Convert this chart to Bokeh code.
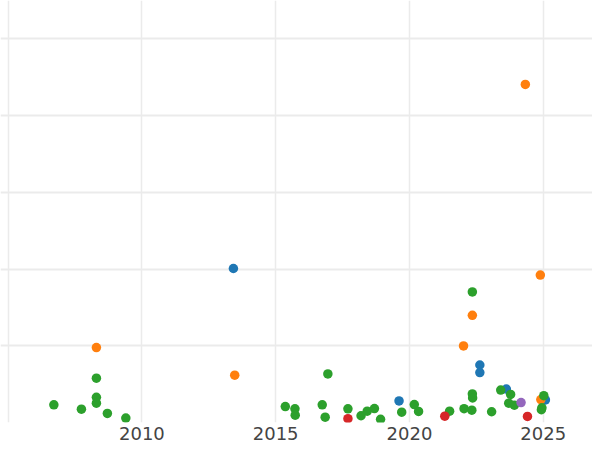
from bokeh.plotting import figure
from bokeh.models import Range1d, FixedTicker, ColumnDataSource
from bokeh.embed import file_html
from bokeh.resources import INLINE

# data (x = year, y = value; arbitrary units with gridlines every 100)
blue_x = [2013.42, 2019.61, 2022.63, 2022.63, 2023.62, 2025.08]
blue_y = [200.9, 28.4, 75.2, 65.3, 43.9, 29.7]

orange_x = [2008.30, 2013.47, 2022.02, 2022.35, 2024.33, 2024.89, 2024.91]
orange_y = [97.9, 61.9, 100.0, 139.9, 440.7, 192.3, 30.1]

green_x = [2006.71, 2007.74, 2008.30, 2008.30, 2008.30, 2008.71, 2009.40,
           2015.36, 2015.72, 2015.73, 2016.95, 2016.74, 2016.85, 2017.70,
           2018.19, 2018.42, 2018.69, 2018.92, 2019.71, 2020.18, 2020.34,
           2021.50, 2022.04, 2022.35, 2022.36, 2022.33, 2022.35, 2023.07,
           2023.41, 2023.78, 2023.71, 2023.92, 2025.02, 2024.95, 2024.93]
green_y = [23.3, 17.6, 33.1, 25.4, 58.0, 12.1, 6.0,
           21.1, 18.1, 9.9, 63.6, 23.3, 7.3, 18.1,
           9.1, 15.1, 18.5, 4.4, 13.8, 23.7, 14.7,
           15.1, 18.3, 37.5, 32.3, 16.3, 170.4, 14.3,
           42.6, 36.9, 25.4, 22.8, 35.3, 19.4, 16.9]

red_x = [2017.70, 2021.32, 2024.41]
red_y = [5.3, 8.6, 8.2]

purple_x = [2024.17]
purple_y = [26.3]

x_labels = [2010, 2015, 2020, 2025]
x_grid = [2005, 2010, 2015, 2020, 2025]
y_grid = [100, 200, 300, 400, 500]

series = [
    (blue_x, blue_y, "#1f77b4"),
    (orange_x, orange_y, "#ff7f0e"),
    (green_x, green_y, "#2ca02c"),
    (red_x, red_y, "#d62728"),
    (purple_x, purple_y, "#9467bd"),
]

p = figure(width=592, height=442, output_backend="svg",
           toolbar_location=None,
           x_range=Range1d(2004.716, 2026.84), y_range=Range1d(0.3, 550.0),
           min_border_left=0, min_border_right=0, min_border_top=0,
           min_border_bottom=0)
p.outline_line_color = None
p.background_fill_color = "white"
p.border_fill_color = "white"

p.yaxis.visible = False
p.xaxis.ticker = FixedTicker(ticks=x_labels)
p.xaxis.axis_line_color = None
p.xaxis.major_tick_line_color = None
p.xaxis.minor_tick_line_color = None
p.xaxis.major_tick_out = 0
p.xaxis.major_tick_in = 0
p.xaxis.major_label_standoff = 4
p.xaxis.major_label_text_font = "DejaVu Sans"
p.xaxis.major_label_text_font_size = "18px"
p.xaxis.major_label_text_color = "#444444"

p.xgrid.ticker = FixedTicker(ticks=x_grid)
p.ygrid.ticker = FixedTicker(ticks=y_grid)
p.xgrid.grid_line_color = "#ebebeb"
p.ygrid.grid_line_color = "#ebebeb"
p.xgrid.grid_line_width = 1.5
p.ygrid.grid_line_width = 2

for xs, ys, col in series:
    src = ColumnDataSource(dict(x=xs, y=ys))
    p.scatter("x", "y", source=src, size=9.5, fill_color=col, line_color=None)

open("out.html", "w").write(file_html(p, INLINE))
